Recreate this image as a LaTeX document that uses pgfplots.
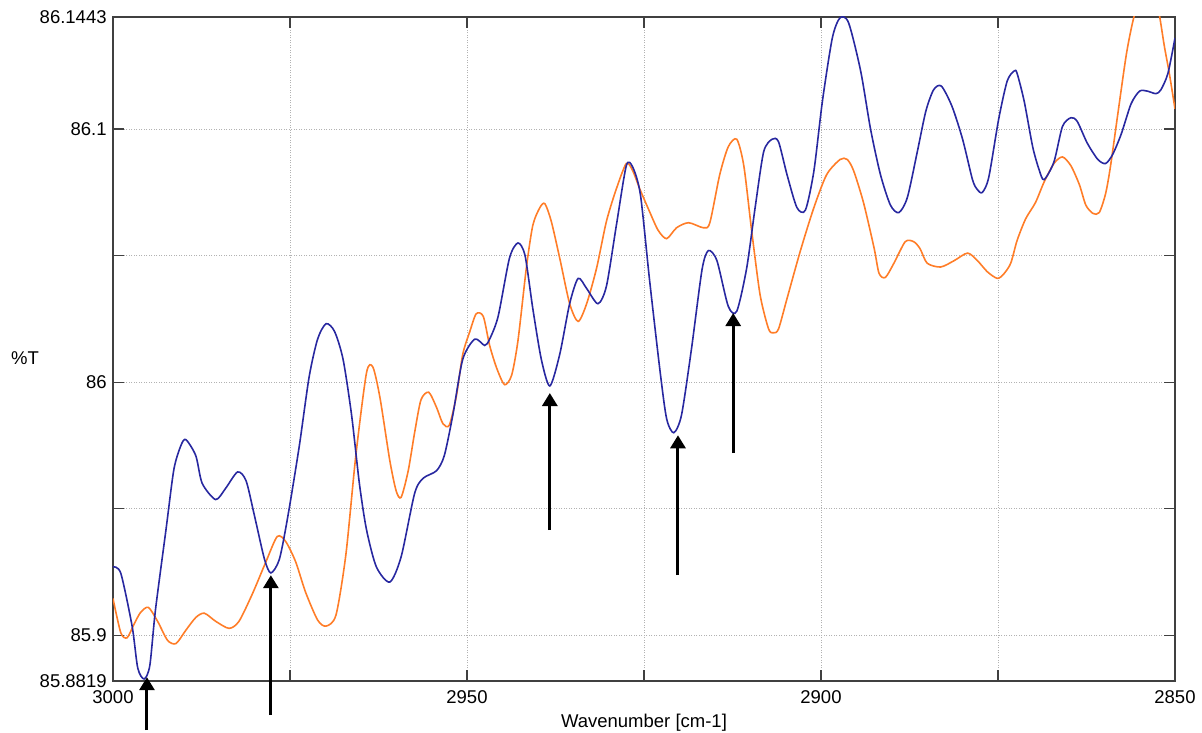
\documentclass[border=0pt]{standalone}
\usepackage{fontspec}
\setmainfont{Liberation Sans}
\usepackage{pgfplots}
\pgfplotsset{compat=1.18}
\usetikzlibrary{arrows.meta}
\definecolor{bluec}{RGB}{40,40,160}
\definecolor{orangec}{RGB}{255,125,40}
\definecolor{axisc}{RGB}{64,64,64}
\begin{document}
\fontsize{18.5}{22}\selectfont
\begin{tikzpicture}
\useasboundingbox (0,0) rectangle (1202pt,733pt);
\begin{axis}[
  at={(113pt,52pt)}, anchor=south west,
  scale only axis, width=1062pt, height=664pt,
  x dir=reverse, xmin=2850, xmax=3000,
  ymin=85.8819, ymax=86.1443,
  xtick={2850,2875,2900,2925,2950,2975,3000},
  xticklabels={2850,,2900,,2950,,3000},
  ytick={85.8819,85.9,85.95,86,86.05,86.1,86.1443},
  yticklabels={85.8819,85.9,,86,,86.1,86.1443},
  tick align=inside, major tick length=11pt,
  tick style={axisc, line width=1.2pt},
  axis line style={axisc, line width=1.8pt},
  grid=major,
  major grid style={gray!60, line width=0.8pt, dash pattern=on 1pt off 1.5pt},
  xticklabel style={yshift=-3.5pt},
  xlabel={Wavenumber [cm-1]},
  xlabel style={at={(axis description cs:0.5,0)}, anchor=center, yshift=-42pt},
  ylabel={\%T},
  ylabel style={at={(axis description cs:-0.0829,0.486)}, anchor=center, rotate=-90},
  clip mode=individual,
  every tick label/.append style={font=\fontsize{18.5}{22}\selectfont},
  label style={font=\fontsize{18.5}{22}\selectfont},
]
\addplot[orangec, line width=1.6pt, smooth, tension=0.45] coordinates {
(3000.0,85.9145) (2998.9,85.901) (2998.0,85.899) (2997.0,85.9045) (2996.1,85.909)
(2995.0,85.911) (2993.7,85.9055) (2992.3,85.898) (2991.1,85.8967) (2989.7,85.902)
(2988.3,85.907) (2987.1,85.9087) (2985.5,85.9055) (2983.6,85.9027) (2982.2,85.9055)
(2980.3,85.9164) (2978.4,85.929) (2976.8,85.939) (2975.6,85.937) (2974.2,85.929)
(2972.8,85.917) (2971.1,85.906) (2969.9,85.9036) (2968.5,85.908) (2967.1,85.932)
(2965.7,85.971) (2964.2,86.0036) (2963.3,86.006) (2962.3,85.994) (2960.9,85.969)
(2960.0,85.957) (2959.3,85.9545) (2958.3,85.965) (2957.4,85.980) (2956.5,85.993)
(2955.4,85.996) (2954.3,85.990) (2953.4,85.9836) (2952.5,85.983) (2951.5,85.9945)
(2950.6,86.011) (2949.6,86.020) (2948.7,86.027) (2947.7,86.026) (2946.8,86.0145)
(2945.8,86.0055) (2944.7,85.999) (2943.7,86.0027) (2942.8,86.0164) (2941.6,86.0455)
(2940.7,86.062) (2939.7,86.069) (2939.0,86.0705) (2938.1,86.0636) (2936.9,86.049)
(2935.5,86.031) (2934.3,86.024) (2933.1,86.031) (2931.7,86.045) (2930.3,86.0636)
(2928.9,86.0764) (2927.5,86.0864) (2926.6,86.0836) (2925.6,86.0764) (2924.2,86.0673)
(2923.0,86.060) (2921.8,86.0567) (2920.4,86.061) (2918.7,86.063) (2916.6,86.061)
(2915.7,86.063) (2914.3,86.082) (2913.1,86.093) (2911.9,86.096) (2910.9,86.0855)
(2909.8,86.060) (2908.6,86.0345) (2907.4,86.021) (2906.7,86.0195) (2906.0,86.021)
(2904.8,86.033) (2902.9,86.052) (2901.0,86.069) (2899.2,86.082) (2897.3,86.088)
(2896.3,86.088) (2895.4,86.0836) (2894.0,86.071) (2892.5,86.053) (2891.8,86.043)
(2890.9,86.0414) (2889.7,86.047) (2888.1,86.0555) (2886.9,86.0555) (2886.0,86.0527)
(2885.0,86.047) (2883.1,86.0455) (2881.2,86.048) (2879.3,86.051) (2877.9,86.048)
(2876.5,86.0436) (2875.1,86.041) (2874.2,86.0427) (2873.2,86.047) (2872.3,86.056)
(2871.1,86.0645) (2869.7,86.071) (2868.5,86.079) (2867.1,86.0864) (2865.9,86.089)
(2864.7,86.0855) (2863.5,86.078) (2862.6,86.070) (2861.6,86.0667) (2860.7,86.067)
(2859.8,86.0745) (2859.1,86.0855) (2858.1,86.1055) (2856.9,86.129) (2856.0,86.142)
(2855.0,86.152) (2853.8,86.156) (2852.8,86.152) (2852.2,86.145) (2851.5,86.1327)
(2850.8,86.122) (2850.0,86.108)
};
\addplot[bluec, line width=1.6pt, smooth, tension=0.45] coordinates {
(3000.0,85.927) (2998.9,85.9245) (2997.3,85.9036) (2996.5,85.887) (2995.6,85.8827)
(2994.8,85.888) (2994.0,85.910) (2992.5,85.942) (2991.4,85.9655) (2990.4,85.975)
(2989.7,85.9773) (2988.3,85.9709) (2987.4,85.960) (2985.5,85.9536) (2984.1,85.958)
(2982.4,85.9645) (2981.2,85.961) (2980.0,85.947) (2978.6,85.930) (2977.7,85.9246)
(2976.5,85.930) (2975.3,85.947) (2973.7,85.9745) (2972.3,86.002) (2971.1,86.017)
(2969.9,86.0231) (2968.7,86.020) (2967.5,86.009) (2966.3,85.987) (2965.2,85.960)
(2964.2,85.9418) (2962.8,85.927) (2960.9,85.921) (2959.3,85.931) (2957.4,85.956)
(2956.2,85.962) (2954.3,85.965) (2953.2,85.971) (2952.0,85.987) (2950.6,86.009)
(2948.9,86.017) (2947.5,86.0145) (2946.8,86.017) (2945.6,86.026) (2944.0,86.049)
(2942.8,86.055) (2941.8,86.050) (2940.7,86.029) (2939.5,86.009) (2938.3,85.9985)
(2936.9,86.011) (2935.5,86.031) (2934.3,86.041) (2933.1,86.037) (2931.5,86.031)
(2930.3,86.038) (2928.9,86.062) (2927.5,86.0855) (2926.6,86.085) (2925.5,86.074)
(2924.2,86.040) (2922.7,86.0036) (2921.8,85.9855) (2920.8,85.980) (2919.7,85.987)
(2918.3,86.013) (2916.8,86.0445) (2915.9,86.052) (2914.7,86.048) (2913.1,86.030)
(2911.9,86.028) (2910.5,86.045) (2909.3,86.069) (2908.1,86.091) (2906.9,86.096)
(2906.0,86.095) (2904.8,86.082) (2903.4,86.069) (2902.2,86.068) (2901.0,86.0835)
(2899.8,86.111) (2898.4,86.136) (2897.3,86.144) (2896.1,86.142) (2894.4,86.123)
(2893.0,86.100) (2891.6,86.082) (2890.2,86.070) (2889.0,86.067) (2887.8,86.073)
(2886.4,86.091) (2885.2,86.107) (2884.1,86.1155) (2883.0,86.117) (2881.5,86.109)
(2880.0,86.096) (2878.6,86.080) (2877.9,86.076) (2877.2,86.075) (2876.3,86.081)
(2874.9,86.104) (2873.7,86.119) (2872.7,86.123) (2872.3,86.122) (2871.3,86.111)
(2870.1,86.093) (2869.2,86.084) (2868.5,86.080) (2867.1,86.087) (2865.9,86.101)
(2864.7,86.1045) (2863.8,86.103) (2862.4,86.0945) (2860.9,86.088) (2859.8,86.0864)
(2858.8,86.090) (2857.6,86.098) (2856.2,86.110) (2855.0,86.115) (2853.9,86.115)
(2852.7,86.114) (2852.0,86.1155) (2851.0,86.122) (2850.0,86.136)
};
\draw[black, line width=3pt, -{Triangle[width=15pt,length=13pt]}] (axis cs:2995.2,85.8625) -- (axis cs:2995.2,85.8834);
\draw[black, line width=3pt, -{Triangle[width=15pt,length=13pt]}] (axis cs:2977.7,85.8684) -- (axis cs:2977.7,85.9237);
\draw[black, line width=3pt, -{Triangle[width=15pt,length=13pt]}] (axis cs:2938.3,85.9415) -- (axis cs:2938.3,85.9957);
\draw[black, line width=3pt, -{Triangle[width=15pt,length=13pt]}] (axis cs:2920.2,85.9237) -- (axis cs:2920.2,85.979);
\draw[black, line width=3pt, -{Triangle[width=15pt,length=13pt]}] (axis cs:2912.4,85.9719) -- (axis cs:2912.4,86.0273);
\end{axis}
\end{tikzpicture}
\end{document}
